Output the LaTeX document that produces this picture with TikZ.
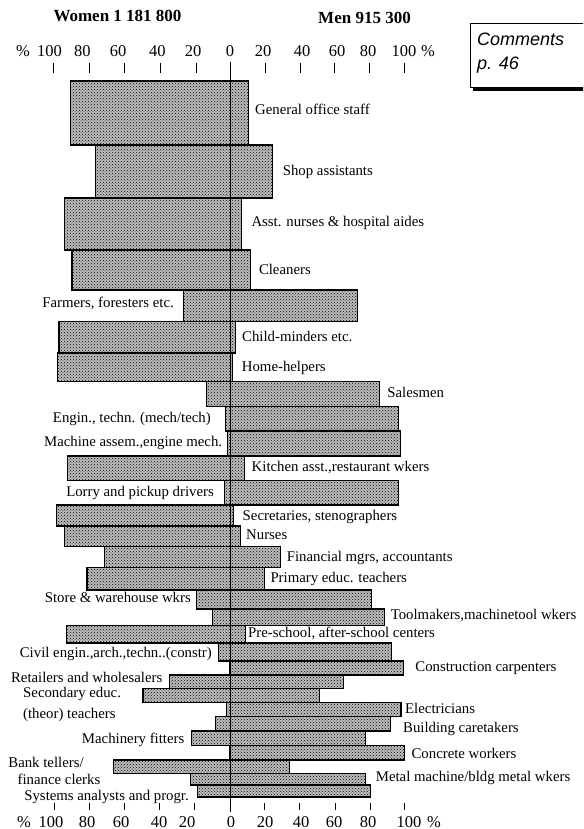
\documentclass[tikz,border=0pt]{standalone}
\usepackage{fontspec}
\setmainfont{Liberation Serif}
\newfontfamily\sansfam{Liberation Sans}
\usetikzlibrary{patterns}
\begin{document}
\begin{tikzpicture}[x=1pt,y=-1pt,
  barfill/.style={fill=black!26},
  bardots/.style={pattern=crosshatch dots, pattern color=black},
  barline/.style={draw=black, line width=1.1pt},
  lab/.style={inner sep=0pt, font=\fontsize{14.8}{16}\selectfont, text height=10pt, text depth=3pt},
  rl/.style={lab, anchor=west},
  ll/.style={lab, anchor=east},
  tl/.style={inner sep=0pt, anchor=base, font=\fontsize{16.5}{18}\selectfont},
  hd/.style={inner sep=0pt, anchor=base, font=\fontsize{17}{19}\selectfont\bfseries},
  tickmark/.style={line width=0.9pt},
  cmt/.style={inner sep=0pt, anchor=base west, font=\sansfam\itshape\fontsize{18}{20}\selectfont}]
\clip (0,0) rectangle (583,829);
\fill[white] (0,0) rectangle (583,829);
\def\barlist{81/145/70.4/248.4, 145/198/95.75/272.5, 198/250/64.25/241.5, 250/290/72/250.8, 290/321.5/183.25/357.5, 321.5/353/59/235.75, 353/381.5/57.25/232.8, 381.5/406.7/206.35/379.25, 406.7/431/225.6/398.5, 431/456/227.9/400.25, 456/480.5/67.75/244.5, 480.5/505/224.4/398.5, 505/526/56.55/233.1, 526/546.7/64.25/240.5, 546.7/567.7/104.5/280.4, 567.7/590/87/264.6, 590/609/196.9/371.2, 609/625.5/212.8/384.5, 625.5/643/66.7/245.9, 643/661/218.25/391.5, 661/675/229.8/403.75, 675/688.5/169.25/343.4, 688.5/702.5/143/319.05, 702.5/716.8/226.65/401, 716.8/731/215.6/390.6, 731/745.7/191.1/365.25, 745.7/760/229.8/404.8, 760/773.3/113.25/289.1, 773.3/785/190.6/365.25, 785/797/197.6/370.5}
\foreach \t/\b/\l/\r in \barlist {
  \fill[barfill] (\l,\t) rectangle (\r,\b);
  \fill[bardots] (\l,\t) rectangle (\r,\b);
}
\foreach \t/\b/\l/\r in \barlist {
  \draw[barline] (\l,\t) rectangle (\r,\b);
}
% centre line
\coordinate (ctop) at (230.5,62);
\coordinate (cbot) at (230.5,812);
\draw[line width=1.2pt] (ctop) -- (cbot);
% ticks
\foreach \x in {53.3,89.3,124.3,160.7,196,265,300,334.3,369.3,404}
  \draw[tickmark] (\x,63) -- (\x,73);
\foreach \x in {54,89.4,124.4,159.4,194.8,264.8,299.8,335.1,370,404.6}
  \draw[tickmark] (\x,803) -- (\x,810);
% headers
\node[hd] (women) at (117.5,21.7) {Women 1 181 800};
\node[hd] (men) at (364.5,23.5) {Men 915 300};
% top scale labels
\node[tl] (tpl) at (23,56.7) {\%};
\node[tl] (tw100) at (49.5,56.7) {100};
\node[tl] (tw80) at (82.3,56.7) {80};
\node[tl] (tw60) at (118,56.7) {60};
\node[tl] (tw40) at (157.3,56.7) {40};
\node[tl] (tw20) at (193,56.7) {20};
\node[tl] (t0) at (230,56.7) {0};
\node[tl] (tm20) at (263,56.7) {20};
\node[tl] (tm40) at (302,56.7) {40};
\node[tl] (tm60) at (337,56.7) {60};
\node[tl] (tm80) at (368,56.7) {80};
\node[tl] (tm100) at (404,56.7) {100};
\node[tl] (tpr) at (428,56.7) {\%};
% bottom scale labels
\node[tl] (bpl) at (24,827) {\%};
\node[tl] (bw100) at (51,827) {100};
\node[tl] (bw80) at (87,827) {80};
\node[tl] (bw60) at (121,827) {60};
\node[tl] (bw40) at (159,827) {40};
\node[tl] (bw20) at (187,827) {20};
\node[tl] (b0) at (231,827) {0};
\node[tl] (bm20) at (265,827) {20};
\node[tl] (bm40) at (301,827) {40};
\node[tl] (bm60) at (334,827) {60};
\node[tl] (bm80) at (368,827) {80};
\node[tl] (bm100) at (409,827) {100};
\node[tl] (bpr) at (434,827) {\%};
% comments box
\fill[black] (473,86) rectangle (610,91.5);
\draw[fill=white, line width=0.8pt] (470,23.3) rectangle (605,87);
\node[cmt] (cm1) at (477,46) {Comments};
\node[cmt] (cm2) at (477,70) {p. 46};
% right-hand labels
\node[rl] (l1) at (255,111) {General office staff};
\node[rl] (l2) at (282.6,171.7) {Shop assistants};
\node[rl] (l3) at (251.3,222.7) {Asst. nurses \& hospital aides};
\node[rl] (l4) at (258.8,271) {Cleaners};
\node[rl] (l6) at (242,338.3) {Child-minders etc.};
\node[rl] (l7) at (241.7,368) {Home-helpers};
\node[rl] (l8) at (387.2,394) {Salesmen};
\node[rl] (l11) at (251.5,467.7) {Kitchen asst.,restaurant wkers};
\node[rl] (l13) at (242.5,516.5) {Secretaries, stenographers};
\node[rl] (l14) at (246,536) {Nurses};
\node[rl] (l15) at (286.7,557.5) {Financial mgrs, accountants};
\node[rl] (l16) at (270.3,578.5) {Primary educ. teachers};
\node[rl] (l18) at (390.6,616) {Toolmakers,machinetool wkers};
\node[rl] (l19) at (248,634) {Pre-school, after-school centers};
\node[rl] (l21) at (415.2,668.3) {Construction carpenters};
\node[rl] (l24) at (405,710) {Electricians};
\node[rl] (l25) at (403,729) {Building caretakers};
\node[rl] (l27) at (411.4,755) {Concrete workers};
\node[rl] (l29) at (375.7,778) {Metal machine/bldg metal wkers};
% left-hand labels
\node[ll] (l5) at (174,303.5) {Farmers, foresters etc.};
\node[ll] (l9) at (211,419) {Engin., techn. (mech/tech)};
\node[ll] (l10) at (222.3,443.3) {Machine assem.,engine mech.};
\node[ll] (l12) at (214,493) {Lorry and pickup drivers};
\node[ll] (l17) at (191,599.3) {Store \& warehouse wkrs};
\node[ll] (l20) at (212,654) {Civil engin.,arch.,techn..(constr)};
\node[ll] (l22) at (162.5,678.5) {Retailers and wholesalers};
\node[ll] (l26) at (184.5,740) {Machinery fitters};
\node[ll] (l30) at (189,797) {Systems analysts and progr.};
\node[lab, anchor=west] (l23a) at (23,693.5) {Secondary educ.};
\node[lab, anchor=west] (l23b) at (23,715) {(theor) teachers};
\node[lab, anchor=west] (l28a) at (8.2,764) {Bank tellers/};
\node[lab, anchor=west] (l28b) at (17.5,781) {finance clerks};
\end{tikzpicture}
\end{document}
